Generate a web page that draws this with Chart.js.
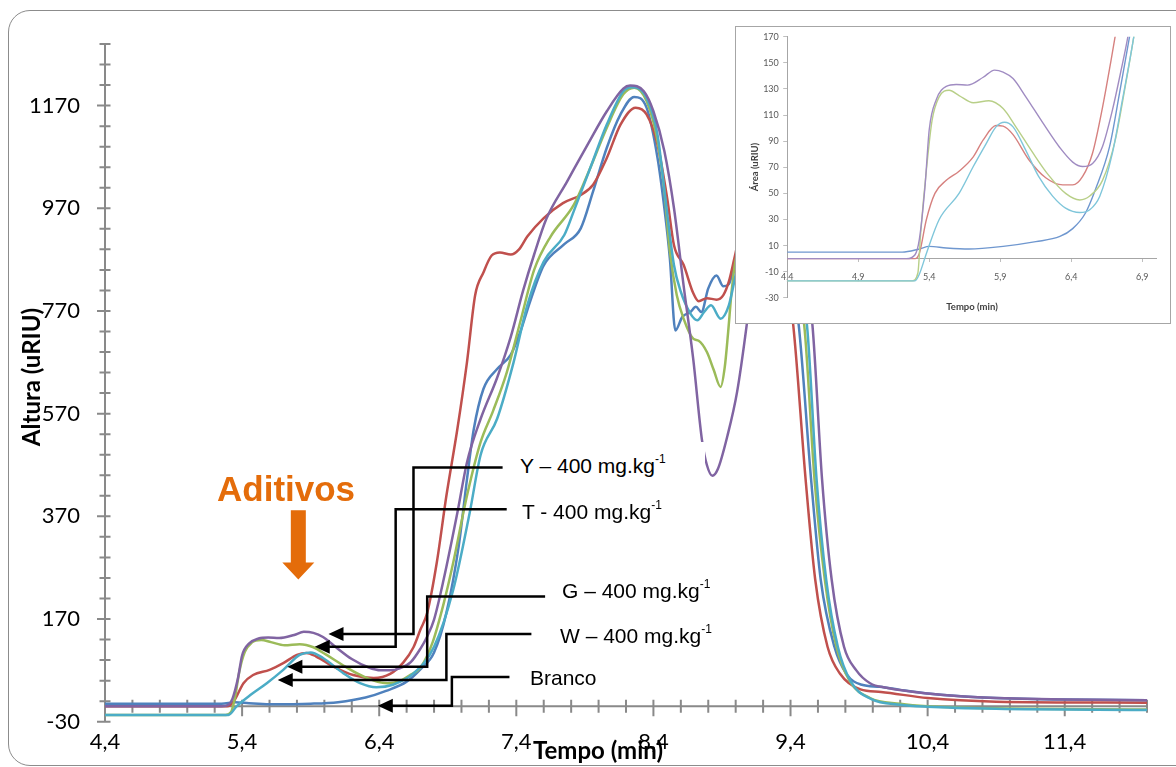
<!DOCTYPE html>
<html lang="pt">
<head>
<meta charset="utf-8">
<title>Altura x Tempo</title>
<script src="https://cdn.jsdelivr.net/npm/chart.js@4.4.1/dist/chart.umd.min.js"></script>
<style>
  html, body { margin: 0; padding: 0; background: #fff; }
  body { position: relative; width: 1176px; height: 767px; overflow: hidden; }
  #frame { position: absolute; left: 8px; top: 10px; width: 1200px; height: 754px; border: 1.5px solid #8c8c8c; border-radius: 22px; }
  #main { position: absolute; left: 0; top: 0; }
  #insetBox { position: absolute; left: 735px; top: 26px; width: 434px; height: 296px; border: 1.5px solid #a6a6a6; background: #fff; }
  #insetBox canvas { position: absolute; left: 0; top: 0; }
  .note { position: absolute; font-family: "Liberation Sans", Arial, sans-serif; font-size: 21px; line-height: 24px; color: #000; white-space: nowrap; }
  .note sup { font-size: 12px; line-height: 0; vertical-align: 10px; }
  .title { position: absolute; font-family: Lato, sans-serif; font-weight: bold; white-space: nowrap; text-align: center; }
</style>
</head>
<body>
<div id="frame"></div>
<canvas id="main" width="1176" height="767"></canvas>
<div id="insetBox"><canvas id="inset" width="434" height="296"></canvas></div>

<div class="title" style="left:498px; top:735px; width:200px; font-size:24px; line-height:29px; color:#000;">Tempo (min)</div>
<div class="title" style="left:-69px; top:362px; width:200px; font-size:24px; line-height:30px; color:#000; transform:rotate(-90deg);">Altura (uRIU)</div>
<div class="title" style="left:715px; top:161px; width:80px; font-size:9.5px; line-height:12px; color:#404040; transform:rotate(-90deg);">Área (uRIU)</div>
<div class="title" style="left:932px; top:301px; width:80px; font-size:9.5px; line-height:12px; color:#404040;">Tempo (min)</div>

<div class="note" style="left:217px; top:471px; font-size:35px; line-height:35px; font-weight:bold; color:#E46C0A;">Aditivos</div>
<div class="note" style="left:508px; top:442px; width:185px; height:36px; padding:12px 0 0 12px; background:#fff;">Y – 400 mg.kg<sup>-1</sup></div>
<div class="note" style="left:522px; top:500px;">T - 400 mg.kg<sup>-1</sup></div>
<div class="note" style="left:562px; top:579px;">G – 400 mg.kg<sup>-1</sup></div>
<div class="note" style="left:560px; top:624px;">W – 400 mg.kg<sup>-1</sup></div>
<div class="note" style="left:530px; top:666px;">Branco</div>

<script>
// cromatograma principal: tempo (min) e altura (uRIU) de cada amostra
const tBranco = [4.4, 5.25, 5.35, 5.45, 5.6, 5.9, 6.1, 6.3, 6.45, 6.6, 6.7, 6.8, 6.89, 6.98, 7.04, 7.09, 7.16, 7.26, 7.36, 7.43, 7.5, 7.6, 7.75, 7.87, 7.96, 8.06, 8.16, 8.26, 8.35, 8.43, 8.48, 8.52, 8.56, 8.61, 8.67, 8.71, 8.75, 8.8, 8.86, 8.91, 8.95, 9.0, 9.1, 9.2, 9.3, 9.4, 9.46, 9.55, 9.62, 9.72, 9.81, 9.92, 10.05, 10.2, 10.4, 10.8, 11.4, 12.0];
const hBranco = [5, 5, 8, 6, 4, 5, 8, 17, 30, 48, 72, 105, 182, 312, 442, 540, 618, 657, 685, 730, 788, 859, 900, 931, 1003, 1088, 1153, 1187, 1166, 1068, 970, 872, 732, 758, 768, 778, 768, 814, 839, 818, 822, 872, 950, 990, 950, 840, 742, 442, 247, 116, 62, 42, 38, 32, 25, 17, 13, 12];

const tY = [4.4, 5.25, 5.3, 5.33, 5.37, 5.4, 5.45, 5.52, 5.59, 5.67, 5.78, 5.85, 5.92, 5.99, 6.08, 6.2, 6.32, 6.41, 6.48, 6.55, 6.63, 6.7, 6.75, 6.8, 6.87, 6.97, 7.04, 7.14, 7.26, 7.36, 7.45, 7.53, 7.62, 7.77, 7.92, 8.06, 8.18, 8.23, 8.33, 8.4, 8.48, 8.55, 8.62, 8.69, 8.755, 8.79, 8.83, 8.87, 8.94, 9.01, 9.08, 9.15, 9.25, 9.4, 9.5, 9.56, 9.63, 9.7, 9.79, 9.88, 9.98, 10.1, 10.4, 10.9, 12.0];
const hY = [0, 0, 3, 15, 55, 99, 122, 132, 134, 133, 139, 145, 143, 135, 116, 92, 76, 70, 70, 74, 86, 112, 136, 169, 247, 377, 475, 560, 640, 720, 810, 880, 950, 1022, 1094, 1159, 1203, 1209, 1198, 1159, 1081, 970, 820, 677, 517, 470, 449, 462, 527, 612, 742, 900, 1000, 950, 850, 742, 442, 247, 116, 70, 45, 36, 25, 16, 12];

const tT = [4.4, 5.28, 5.32, 5.35, 5.38, 5.42, 5.47, 5.54, 5.61, 5.71, 5.82, 5.92, 6.01, 6.13, 6.24, 6.36, 6.46, 6.55, 6.62, 6.7, 6.79, 6.87, 6.94, 7.04, 7.14, 7.23, 7.33, 7.43, 7.53, 7.65, 7.82, 7.94, 8.06, 8.18, 8.26, 8.35, 8.43, 8.48, 8.52, 8.57, 8.62, 8.69, 8.73, 8.79, 8.84, 8.89, 8.92, 8.945, 8.97, 9.0, 9.1, 9.2, 9.3, 9.4, 9.5, 9.575, 9.65, 9.735, 9.83, 9.98, 10.2, 10.4, 10.9, 12.0];
const hT = [-17, -17, -11, 20, 68, 106, 124, 129, 125, 119, 121, 115, 101, 81, 64, 50, 45, 49, 60, 75, 125, 200, 280, 410, 515, 575, 650, 750, 850, 915, 977, 1049, 1127, 1192, 1205, 1179, 1101, 1003, 886, 801, 755, 716, 712, 690, 655, 622, 660, 729, 807, 870, 950, 1000, 950, 850, 742, 442, 247, 116, 50, 16, 5, 0, -4, -6];

const tG = [4.4, 5.29, 5.34, 5.41, 5.48, 5.6, 5.7, 5.8, 5.87, 5.94, 6.07, 6.21, 6.36, 6.48, 6.575, 6.65, 6.7, 6.75, 6.82, 6.89, 6.97, 7.04, 7.1, 7.16, 7.22, 7.28, 7.36, 7.42, 7.48, 7.6, 7.74, 7.87, 7.96, 8.06, 8.16, 8.27, 8.35, 8.43, 8.5, 8.55, 8.62, 8.69, 8.73, 8.79, 8.86, 8.91, 8.95, 8.99, 9.1, 9.2, 9.3, 9.42, 9.51, 9.58, 9.67, 9.76, 9.91, 10.06, 10.4, 10.9, 12.0];
const hG = [0, 0, 10, 45, 61, 71, 84, 100, 104, 97, 77, 61, 55, 63, 85, 115, 149, 182, 280, 410, 540, 670, 801, 845, 878, 884, 880, 890, 915, 951, 980, 996, 1016, 1068, 1133, 1166, 1153, 1094, 990, 898, 860, 805, 789, 795, 792, 801, 827, 872, 1000, 1020, 950, 742, 442, 247, 116, 64, 33, 28, 16, 9, 7];

const tW = [4.4, 5.3, 5.36, 5.46, 5.58, 5.7, 5.82, 5.9, 5.99, 6.14, 6.26, 6.38, 6.5, 6.65, 6.8, 6.94, 7.06, 7.14, 7.26, 7.38, 7.48, 7.6, 7.75, 7.82, 7.94, 8.06, 8.18, 8.24, 8.35, 8.43, 8.49, 8.55, 8.6, 8.67, 8.72, 8.77, 8.82, 8.89, 8.95, 9.0, 9.1, 9.2, 9.3, 9.42, 9.52, 9.59, 9.66, 9.745, 9.84, 9.99, 10.2, 10.4, 10.9, 12.0];
const hW = [-17, -17, 0, 22, 45, 71, 100, 105, 94, 64, 45, 37, 42, 64, 116, 227, 377, 490, 560, 670, 781, 866, 918, 965, 1049, 1133, 1198, 1206, 1185, 1113, 983, 859, 807, 765, 752, 768, 781, 755, 781, 840, 950, 1000, 960, 850, 742, 442, 247, 116, 48, 14, 3, -1, -5, -7];

// detalhe (grafico menor): tempo (min) e area (uRIU)
const tiBranco = [4.4, 5.21, 5.33, 5.4, 5.52, 5.68, 5.92, 6.15, 6.32, 6.41, 6.5, 6.57, 6.67, 6.74, 6.81, 6.9];
const aiBranco = [5, 5, 7.4, 9.4, 8.2, 7.4, 9.4, 13, 17, 23, 35, 53, 86, 127, 170, 230];
const tiY = [4.4, 5.24, 5.3, 5.33, 5.37, 5.4, 5.45, 5.52, 5.59, 5.67, 5.78, 5.86, 5.92, 5.99, 6.08, 6.2, 6.32, 6.41, 6.48, 6.55, 6.62, 6.69, 6.75, 6.8, 6.9];
const aiY = [0, 0, 3, 14.5, 55, 99, 122, 132, 133.5, 133, 139, 144.5, 143, 138, 124, 104, 85, 74, 70.6, 73, 86, 114, 144, 171, 240];
const tiT = [4.4, 5.28, 5.32, 5.34, 5.38, 5.42, 5.47, 5.54, 5.61, 5.71, 5.82, 5.92, 6.01, 6.13, 6.24, 6.36, 6.46, 6.53, 6.62, 6.71, 6.78, 6.84, 6.95];
const aiT = [-17, -17, -11, 20, 68, 106, 124, 129, 125, 119.5, 121, 115, 101, 81, 64, 50, 45, 48, 60, 91, 132, 170, 250];
const tiG = [4.4, 5.3, 5.33, 5.38, 5.44, 5.52, 5.61, 5.71, 5.78, 5.87, 5.92, 5.99, 6.1, 6.22, 6.34, 6.41, 6.48, 6.55, 6.62, 6.68, 6.71, 6.8];
const aiG = [0, 0, 4, 30, 50, 60, 67, 78, 91, 102, 101.5, 95, 76, 62, 56.5, 56.5, 63, 81, 116, 152, 171, 230];
const tiW = [4.4, 5.3, 5.33, 5.38, 5.47, 5.61, 5.71, 5.8, 5.87, 5.93, 5.99, 6.08, 6.17, 6.27, 6.36, 6.46, 6.53, 6.6, 6.69, 6.76, 6.84, 6.95];
const aiW = [-17, -17, -12, 4, 30, 50, 70.6, 88, 101, 104.5, 101, 83, 63, 47.7, 38.7, 35.4, 37.5, 47.7, 81, 121.6, 170, 250];

const xTickLabels = [4.4, 5.4, 6.4, 7.4, 8.4, 9.4, 10.4, 11.4];
const yTickLabels = [-30, 170, 370, 570, 770, 970, 1170];
const insetXTicks = [4.4, 4.9, 5.4, 5.9, 6.4, 6.9];
const insetYTicks = [-30, -10, 10, 30, 50, 70, 90, 110, 130, 150, 170];

// setas das legendas (em unidades do grafico): ponta, cotovelo, nivel da legenda, fim
const pointers = [
  { tip: [6.03, 141], elbow: 6.65, level: 465, end: 7.30 },
  { tip: [5.93, 116], elbow: 6.52, level: 384, end: 7.33 },
  { tip: [5.73, 77], elbow: 6.75, level: 214, end: 7.61 },
  { tip: [5.66, 51], elbow: 6.89, level: 141, end: 7.51 },
  { tip: [6.39, 1], elbow: 6.93, level: 57, end: 7.35 }
];
const aditivosArrow = { x: 5.81, from: 382, to: 247 };

const mainSeries = [
  { label: 'Y – 400 mg.kg-1', t: tY, v: hY, color: '#8064A2' },
  { label: 'W – 400 mg.kg-1', t: tW, v: hW, color: '#4BACC6' },
  { label: 'T - 400 mg.kg-1', t: tT, v: hT, color: '#9BBB59' },
  { label: 'G – 400 mg.kg-1', t: tG, v: hG, color: '#C0504D' },
  { label: 'Branco', t: tBranco, v: hBranco, color: '#4F81BD' }
];
const insetSeries = [
  { label: 'Y – 400 mg.kg-1', t: tiY, v: aiY, color: '#A08CC2' },
  { label: 'W – 400 mg.kg-1', t: tiW, v: aiW, color: '#7FC6DA' },
  { label: 'T - 400 mg.kg-1', t: tiT, v: aiT, color: '#B8CF88' },
  { label: 'G – 400 mg.kg-1', t: tiG, v: aiG, color: '#D6817F' },
  { label: 'Branco', t: tiBranco, v: aiBranco, color: '#6F97CF' }
];

const comma = v => Number(v).toFixed(1).replace('.', ',');

function toDatasets(list, width) {
  return list.map(s => ({
    label: s.label,
    data: s.t.map((t, i) => ({ x: t, y: s.v[i] })),
    borderColor: s.color,
    borderWidth: width,
    pointRadius: 0,
    fill: false,
    clip: 0,
    cubicInterpolationMode: 'monotone'
  }));
}

// eixos no estilo do Excel: eixo x cruzando em 0, marcas atravessando a linha
const excelAxes = {
  id: 'excelAxes',
  beforeDatasetsDraw(chart) {
    const { ctx, scales: { x, y } } = chart;
    const x0 = x.getPixelForValue(x.min);
    const y0 = y.getPixelForValue(0);
    ctx.save();
    ctx.strokeStyle = '#898989';
    ctx.lineWidth = 2;
    ctx.beginPath();
    ctx.moveTo(x0, y.getPixelForValue(y.max));
    ctx.lineTo(x0, y.getPixelForValue(y.min));
    ctx.moveTo(x0, y0);
    ctx.lineTo(x.getPixelForValue(x.max), y0);
    for (let i = 0; y.min + i * 40 <= y.max + 0.01; i++) {
      const py = y.getPixelForValue(y.min + i * 40);
      ctx.moveTo(x0 - (i % 5 === 0 ? 8 : 5.5), py);
      ctx.lineTo(x0 + 5.5, py);
    }
    for (let i = 0; x.min + i * 0.2 <= x.max + 1e-6; i++) {
      const px = x.getPixelForValue(x.min + i * 0.2);
      ctx.moveTo(px, y0 - 6.5);
      ctx.lineTo(px, y0 + (i % 5 === 0 ? 10 : 6.5));
    }
    ctx.stroke();
    ctx.restore();
  }
};

const callouts = {
  id: 'callouts',
  afterDatasetsDraw(chart) {
    const { ctx, scales: { x, y } } = chart;
    ctx.save();
    ctx.strokeStyle = '#000';
    ctx.fillStyle = '#000';
    ctx.lineWidth = 2.5;
    ctx.lineJoin = 'miter';
    pointers.forEach(p => {
      const tx = x.getPixelForValue(p.tip[0]);
      const ty = y.getPixelForValue(p.tip[1]);
      const ex = x.getPixelForValue(p.elbow);
      const ly = y.getPixelForValue(p.level);
      ctx.beginPath();
      ctx.moveTo(x.getPixelForValue(p.end), ly);
      ctx.lineTo(ex, ly);
      ctx.lineTo(ex, ty);
      ctx.lineTo(tx + 12, ty);
      ctx.stroke();
      ctx.beginPath();
      ctx.moveTo(tx, ty);
      ctx.lineTo(tx + 15, ty - 7);
      ctx.lineTo(tx + 15, ty + 7);
      ctx.closePath();
      ctx.fill();
    });

    const ax = x.getPixelForValue(aditivosArrow.x);
    const top = y.getPixelForValue(aditivosArrow.from);
    const tip = y.getPixelForValue(aditivosArrow.to);
    ctx.fillStyle = '#E46C0A';
    ctx.beginPath();
    ctx.moveTo(ax - 7.5, top);
    ctx.lineTo(ax + 7.5, top);
    ctx.lineTo(ax + 7.5, tip - 17);
    ctx.lineTo(ax + 16, tip - 17);
    ctx.lineTo(ax, tip);
    ctx.lineTo(ax - 16, tip - 17);
    ctx.lineTo(ax - 7.5, tip - 17);
    ctx.closePath();
    ctx.fill();
    ctx.restore();
  }
};

new Chart(document.getElementById('main'), {
  type: 'line',
  data: { datasets: toDatasets(mainSeries, 2.5) },
  options: {
    responsive: false,
    animation: false,
    events: [],
    layout: { padding: { left: 0, top: 44, right: 29, bottom: 0 } },
    plugins: { legend: { display: false }, tooltip: { enabled: false } },
    scales: {
      x: {
        type: 'linear',
        min: 4.4,
        max: 12.0,
        afterBuildTicks: s => { s.ticks = xTickLabels.map(v => ({ value: v })); },
        afterFit: s => { s.height = 45.3; },
        grid: { display: false, drawTicks: false },
        border: { display: false },
        ticks: {
          autoSkip: false, maxRotation: 0, padding: 7, color: '#000',
          font: { family: 'Lato', size: 22 },
          callback: v => comma(v)
        }
      },
      y: {
        min: -30,
        max: 1290,
        afterBuildTicks: s => { s.ticks = yTickLabels.map(v => ({ value: v })); },
        afterFit: s => { s.width = 105; },
        grid: { display: false, drawTicks: false },
        border: { display: false },
        ticks: {
          autoSkip: false, padding: 25, color: '#000',
          font: { family: 'Lato', size: 22 },
          callback: v => String(v)
        }
      }
    }
  },
  plugins: [excelAxes, callouts]
});

new Chart(document.getElementById('inset'), {
  type: 'line',
  data: { datasets: toDatasets(insetSeries, 1.4) },
  options: {
    responsive: false,
    animation: false,
    events: [],
    layout: { padding: { left: 0, top: 9.2, right: 13.5, bottom: 25.2 } },
    plugins: { legend: { display: false }, tooltip: { enabled: false } },
    scales: {
      x: {
        type: 'linear',
        min: 4.4,
        max: 7.0,
        position: { y: 0 },
        afterBuildTicks: s => { s.ticks = insetXTicks.map(v => ({ value: v })); },
        grid: { drawOnChartArea: false, drawTicks: true, tickLength: 3, color: '#bfbfbf' },
        border: { color: '#a6a6a6', width: 1 },
        ticks: {
          autoSkip: false, maxRotation: 0, padding: 10, color: '#595959',
          font: { family: 'Lato', size: 9 },
          callback: v => comma(v)
        }
      },
      y: {
        min: -30,
        max: 170,
        afterBuildTicks: s => { s.ticks = insetYTicks.map(v => ({ value: v })); },
        afterFit: s => { s.width = 51.2; },
        grid: { drawOnChartArea: false, drawTicks: true, tickLength: 4, color: '#bfbfbf' },
        border: { color: '#a6a6a6', width: 1 },
        ticks: {
          autoSkip: false, padding: 4.4, color: '#595959',
          font: { family: 'Lato', size: 9 },
          callback: v => String(v)
        }
      }
    }
  }
});
</script>
</body>
</html>
